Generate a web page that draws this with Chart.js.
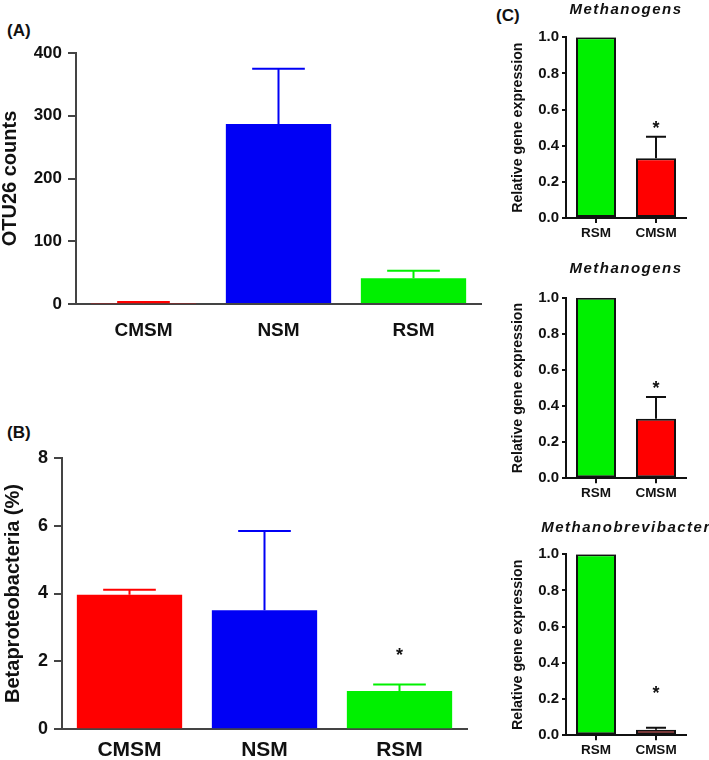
<!DOCTYPE html>
<html lang="en">
<head>
<meta charset="UTF-8">
<title>OTU26, Betaproteobacteria and methanogen expression</title>
<script src="https://cdn.jsdelivr.net/npm/chart.js@4.4.0/dist/chart.umd.min.js"></script>
<style>
  body { margin: 0; background: #fff; }
  #wrap { position: relative; width: 709px; height: 760px; overflow: hidden; font-family: 'Liberation Sans', Arial, sans-serif; }
  canvas { position: absolute; }
  .tag { position: absolute; font-weight: bold; font-size: 17px; line-height: 1; color: #111; }
</style>
</head>
<body>
<div id="wrap">
  <div class="tag" style="left:7px; top:22px">(A)</div>
  <div class="tag" style="left:7px; top:424px">(B)</div>
  <div class="tag" style="left:496px; top:7px">(C)</div>
  <canvas id="chartA" style="left:0; top:0" width="490" height="345"></canvas>
  <canvas id="chartB" style="left:0; top:400px" width="490" height="360"></canvas>
  <canvas id="chartC1" style="left:500px; top:0" width="209" height="250"></canvas>
  <canvas id="chartC2" style="left:500px; top:250px" width="209" height="250"></canvas>
  <canvas id="chartC3" style="left:500px; top:500px" width="209" height="260"></canvas>
</div>

<script>
  // panel A and B: three soil groups
  const soilGroups = ['CMSM', 'NSM', 'RSM'];
  const soilColors = ['#ff0000', '#0000f5', '#00f000'];

  const otu26Mean = [1, 287, 41];
  const otu26Err = [2, 88, 12];

  const betaMean = [3.96, 3.51, 1.13];
  const betaErr = [0.15, 2.33, 0.19];
  const betaStars = [[2, 2.28]];

  // panel C: qPCR, relative expression
  const qpcrGroups = ['RSM', 'CMSM'];
  const qpcrColors = ['#00f000', '#ff0000'];

  const methanogens1 = [1, 0.33];
  const methanogens1Err = [0, 0.12];
  const methanogens1Stars = [[1, 0.515]];

  const methanogens2 = [1, 0.33];
  const methanogens2Err = [0, 0.12];
  const methanogens2Stars = [[1, 0.517]];

  const methanobrevibacter = [1, 0.03];
  const methanobrevibacterErr = [0, 0.012];
  const methanobrevibacterStars = [[1, 0.25]];

  const FONT = "'Liberation Sans', Arial, sans-serif";
  Chart.defaults.font.family = FONT;
  Chart.defaults.color = '#111';

  // upper error bars only, drawn from the bar top
  const errorBars = {
    id: 'errorBars',
    afterDatasetsDraw(chart) {
      const ctx = chart.ctx;
      const y = chart.scales.y;
      chart.data.datasets.forEach((ds, i) => {
        if (!ds.errors) return;
        chart.getDatasetMeta(i).data.forEach((bar, j) => {
          const err = ds.errors[j];
          if (!err) return;
          const top = y.getPixelForValue(ds.data[j] + err);
          const half = bar.width / 4;
          ctx.save();
          ctx.strokeStyle = ds.errColor || bar.options.backgroundColor;
          ctx.lineWidth = 2;
          ctx.beginPath();
          ctx.moveTo(bar.x, bar.y);
          ctx.lineTo(bar.x, top);
          ctx.moveTo(bar.x - half, top);
          ctx.lineTo(bar.x + half, top);
          ctx.stroke();
          ctx.restore();
        });
      });
    }
  };

  const stars = {
    id: 'stars',
    afterDatasetsDraw(chart, args, opts) {
      if (!opts.marks) return;
      const ctx = chart.ctx;
      ctx.save();
      ctx.font = 'bold ' + opts.size + 'px ' + FONT;
      ctx.fillStyle = '#111';
      ctx.textAlign = 'center';
      ctx.textBaseline = 'middle';
      opts.marks.forEach(m => {
        const x = chart.scales.x.getPixelForValue(m[0]);
        const yy = chart.scales.y.getPixelForValue(m[1]);
        ctx.fillText('*', x, yy + opts.size * 0.22);
      });
      ctx.restore();
    }
  };

  const panelTitle = {
    id: 'panelTitle',
    afterDraw(chart, args, opts) {
      if (!opts.text) return;
      const ctx = chart.ctx;
      const a = chart.chartArea;
      ctx.save();
      ctx.font = 'italic bold 15px ' + FONT;
      ctx.letterSpacing = '1.5px';
      ctx.fillStyle = '#111';
      ctx.textAlign = 'center';
      ctx.textBaseline = 'alphabetic';
      ctx.fillText(opts.text, (a.left + a.right) / 2, opts.y);
      ctx.restore();
    }
  };

  function barPanel(id, o) {
    return new Chart(document.getElementById(id), {
      type: 'bar',
      data: {
        labels: o.labels,
        datasets: [{
          data: o.values,
          errors: o.errors,
          errColor: o.errColor,
          backgroundColor: o.colors,
          borderColor: o.outline ? '#111' : 'transparent',
          borderWidth: o.outline ? 2 : 0,
          borderSkipped: false,
          barPercentage: o.barPct,
          categoryPercentage: 1
        }]
      },
      options: {
        responsive: false,
        animation: false,
        devicePixelRatio: 1,
        layout: { padding: o.pad },
        plugins: {
          legend: { display: false },
          tooltip: { enabled: false },
          stars: { marks: o.stars, size: o.starSize || 18 },
          panelTitle: { text: o.title, y: o.titleY }
        },
        scales: {
          x: {
            afterFit: s => { s.height = o.xh; },
            border: { display: true, color: o.axisColor, width: 2 },
            grid: {
              display: o.xTicks, drawOnChartArea: false, drawTicks: o.xTicks,
              offset: false, tickLength: 5, color: o.axisColor, lineWidth: 2
            },
            ticks: { font: { size: o.xFont, weight: 'bold' }, padding: o.xPad, maxRotation: 0 }
          },
          y: {
            min: 0,
            max: o.max,
            afterFit: s => { s.width = o.yw; },
            border: { display: true, color: o.axisColor, width: 2 },
            grid: { drawOnChartArea: false, drawTicks: true, tickLength: o.tickLen, color: o.axisColor, lineWidth: 2 },
            ticks: {
              stepSize: o.step,
              padding: o.yPad,
              font: { size: o.yFont, weight: 'bold' },
              callback: o.fmt
            },
            title: {
              display: true,
              text: o.yTitle,
              font: { size: o.yTitleSize, weight: o.yTitleWeight, lineHeight: 1 },
              padding: { top: o.yTitlePad, bottom: 0 }
            }
          }
        }
      },
      plugins: [errorBars, stars, panelTitle]
    });
  }

  barPanel('chartA', {
    labels: soilGroups, values: otu26Mean, errors: otu26Err, colors: soilColors,
    barPct: 0.78, pad: { left: 0, top: 53, right: 9, bottom: 0 },
    xh: 41, yw: 76, max: 400, step: 100, axisColor: '#444', xTicks: false,
    xFont: 19, xPad: 15, yFont: 17, yPad: 6, tickLen: 8,
    yTitle: 'OTU26 counts', yTitleSize: 20, yTitleWeight: 'bold', yTitlePad: 0
  });

  barPanel('chartB', {
    labels: soilGroups, values: betaMean, errors: betaErr, colors: soilColors,
    barPct: 0.78, pad: { left: 0, top: 57.7, right: 23, bottom: 0 },
    xh: 30.7, yw: 62, max: 8, step: 2, axisColor: '#444', xTicks: false,
    xFont: 21, xPad: 8, yFont: 18, yPad: 6, tickLen: 8,
    yTitle: 'Betaproteobacteria (%)', yTitleSize: 20, yTitleWeight: 'bold', yTitlePad: 3,
    stars: betaStars, starSize: 18
  });

  const qpcrBase = {
    labels: qpcrGroups, colors: qpcrColors, outline: true, errColor: '#111',
    barPct: 0.667, yw: 66, max: 1, step: 0.2, axisColor: '#111', xTicks: true,
    xFont: 13.5, xPad: 2, yFont: 15, yPad: 3, tickLen: 4,
    fmt: v => v.toFixed(1),
    yTitle: 'Relative gene expression', yTitleSize: 14.2, yTitleWeight: 'bold', yTitlePad: 10.5,
    starSize: 18
  };

  barPanel('chartC1', Object.assign({}, qpcrBase, {
    values: methanogens1, errors: methanogens1Err, stars: methanogens1Stars,
    title: 'Methanogens', titleY: 14,
    pad: { left: 0, top: 37.3, right: 23, bottom: 0 }, xh: 32
  }));

  barPanel('chartC2', Object.assign({}, qpcrBase, {
    values: methanogens2, errors: methanogens2Err, stars: methanogens2Stars,
    title: 'Methanogens', titleY: 23,
    pad: { left: 0, top: 47.7, right: 23, bottom: 0 }, xh: 21.7
  }));

  barPanel('chartC3', Object.assign({}, qpcrBase, {
    values: methanobrevibacter, errors: methanobrevibacterErr, stars: methanobrevibacterStars,
    title: 'Methanobrevibacter', titleY: 32,
    pad: { left: 0, top: 54.3, right: 23, bottom: 0 }, xh: 24.7
  }));
</script>
</body>
</html>
